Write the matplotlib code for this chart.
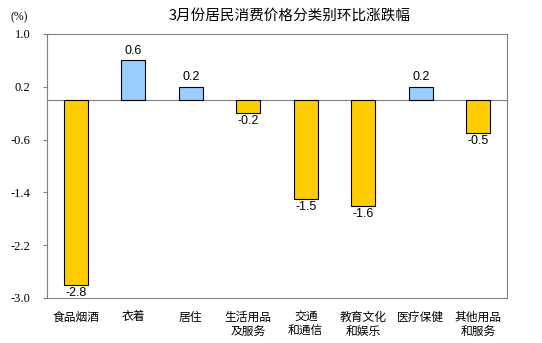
import matplotlib
matplotlib.use("Agg")
import matplotlib.pyplot as plt
import numpy as np

categories = ['食品烟酒', '衣着', '居住', '生活用品\n及服务', '交通\n和通信',
              '教育文化\n和娱乐', '医疗保健', '其他用品\n和服务']
values = [-2.8, 0.6, 0.2, -0.2, -1.5, -1.6, 0.2, -0.5]
yticks = [1.0, 0.2, -0.6, -1.4, -2.2, -3.0]

cjk = ['Noto Sans CJK SC', 'DejaVu Sans']

fig = plt.figure(figsize=(5.42, 3.43), dpi=100)
ax = fig.add_axes([0.0867, 0.1312, 0.8487, 0.7697])

x = np.arange(len(values))
colors = ['#99CCFF' if v > 0 else '#FFCC00' for v in values]
ax.bar(x, values, 0.42, color=colors, edgecolor='black', linewidth=0.8, zorder=3)
ax.axhline(0, color='#808080', linewidth=0.8, zorder=2)

for xi, v in zip(x, values):
    if v > 0:
        ax.text(xi, v + 0.05, '%.1f' % v, ha='center', va='bottom',
                fontsize=9, family='Liberation Sans')
    else:
        ax.text(xi, v - 0.03, '%.1f' % v, ha='center', va='top',
                fontsize=9, family='Liberation Sans')

ax.set_xlim(-0.5, len(values) - 0.5)
ax.set_ylim(-3.0, 1.0)
ax.set_yticks(yticks)
ax.set_yticklabels(['%.1f' % t for t in yticks], fontfamily='Liberation Serif', fontsize=9)
ax.set_xticks(x)
ax.set_xticklabels(categories, fontfamily=cjk, fontsize=8.5, linespacing=1.15, va='top')
ax.tick_params(axis='x', length=0, pad=9)
ax.tick_params(axis='y', length=3, color='#808080', pad=9)
for s in ax.spines.values():
    s.set_color('#808080')
    s.set_linewidth(0.8)

fig.text(0.535, 0.955, '3月份居民消费价格分类别环比涨跌幅', ha='center', va='center',
         fontsize=10.5, family=cjk)
fig.text(0.035, 0.95, '(%)', ha='center', va='center', fontsize=8.5, family='Liberation Serif')

fig.savefig('out.png', dpi=100)
